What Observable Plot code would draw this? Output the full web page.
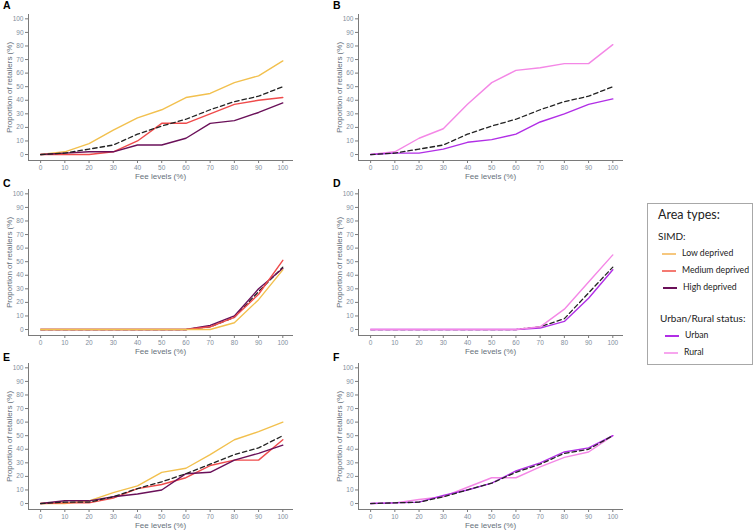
<!DOCTYPE html>
<html>
<head>
<meta charset="utf-8">
<script src="https://cdn.jsdelivr.net/npm/d3@7"></script>
<script src="https://cdn.jsdelivr.net/npm/@observablehq/plot@0.6"></script>
<style>
  body { margin: 0; background: #fff; width: 755px; height: 532px; position: relative; overflow: hidden; font-family: "Liberation Sans", Arial, sans-serif; }
  .panel { position: absolute; }
  .plabel { position: absolute; font: bold 10.5px "Liberation Sans", Arial, sans-serif; color: #000; line-height: 11px; }
  .legend { position: absolute; left: 647px; top: 203px; width: 106px; height: 162px; border: 1px solid #a8a8a8; box-sizing: border-box; font-family: Lato, "Open Sans", sans-serif; color: #222; }
  .legend .txt { position: absolute; white-space: nowrap; }
  .legend .sw { position: absolute; height: 1.5px; width: 14px; }
</style>
</head>
<body>
<script>
// Fee levels (x axis)
const fee = [0, 10, 20, 30, 40, 50, 60, 70, 80, 90, 100];
const yTicks = [0, 10, 20, 30, 40, 50, 60, 70, 80, 90, 100];

// Series names and colours
const seriesNames = ["Low deprived", "Medium deprived", "High deprived", "Urban", "Rural", "Overall"];
const seriesColors = ["#f2c04e", "#ef4b4b", "#6a1059", "#b12ee6", "#f487e6", "#222222"];

// Panel A (SIMD)
const A_low    = [0, 2, 8, 18, 27, 33, 42, 45, 53, 58, 69];
const A_medium = [0, 0, 0, 2, 10, 23, 23, 30, 37, 40, 42];
const A_high   = [0, 1, 2, 2, 7, 7, 12, 23, 25, 31, 38];
const A_all    = [0, 1, 4, 7, 15, 21, 26, 33, 39, 43, 50];
// Panel B (Urban/Rural)
const B_urban  = [0, 1, 1, 4, 9, 11, 15, 24, 30, 37, 41];
const B_rural  = [0, 2, 12, 19, 37, 53, 62, 64, 67, 67, 81];
const B_all    = [0, 1, 4, 7, 15, 21, 26, 33, 39, 43, 50];
// Panel C (SIMD)
const C_low    = [0, 0, 0, 0, 0, 0, 0, 0, 5, 22, 44];
const C_medium = [0, 0, 0, 0, 0, 0, 0, 2, 9, 26, 51];
const C_high   = [0, 0, 0, 0, 0, 0, 0, 3, 10, 30, 45];
const C_all    = [0, 0, 0, 0, 0, 0, 0, 2, 9, 28, 46];
// Panel D (Urban/Rural)
const D_urban  = [0, 0, 0, 0, 0, 0, 0, 1, 6, 23, 44];
const D_rural  = [0, 0, 0, 0, 0, 0, 0, 2, 15, 35, 55];
const D_all    = [0, 0, 0, 0, 0, 0, 0, 2, 8, 27, 46];
// Panel E (SIMD)
const E_low    = [0, 0, 2, 8, 13, 23, 26, 36, 47, 53, 60];
const E_medium = [0, 0.5, 0.5, 4, 11, 14, 19, 28, 32, 32, 47];
const E_high   = [0, 2, 2, 5, 7, 10, 22, 23, 32, 37, 43];
const E_all    = [0, 1, 1, 5, 11, 16, 22, 29, 36, 41, 50];
// Panel F (Urban/Rural)
const F_urban  = [0, 0.5, 1, 6, 10, 15, 24, 30, 38, 41, 50];
const F_rural  = [0, 0.5, 3, 5, 12, 19, 19, 27, 34, 38, 50];
const F_all    = [0, 0.5, 1, 5, 10, 15, 23, 29, 37, 40, 50];

const panels = [
  { label: "A", col: 0, row: 0, allFirst: false, series: [["Low deprived", A_low], ["Medium deprived", A_medium], ["High deprived", A_high]], all: A_all },
  { label: "B", col: 1, row: 0, allFirst: false, series: [["Rural", B_rural], ["Urban", B_urban]], all: B_all },
  { label: "C", col: 0, row: 1, allFirst: true, series: [["High deprived", C_high], ["Medium deprived", C_medium], ["Low deprived", C_low]], all: C_all },
  { label: "D", col: 1, row: 1, allFirst: true, series: [["Urban", D_urban], ["Rural", D_rural]], all: D_all },
  { label: "E", col: 0, row: 2, allFirst: false, series: [["Low deprived", E_low], ["Medium deprived", E_medium], ["High deprived", E_high]], all: E_all },
  { label: "F", col: 1, row: 2, allFirst: false, series: [["Rural", F_rural], ["Urban", F_urban]], all: F_all }
];

const rowTops = [0, 175, 349];
const labelTops = [0, 178, 352];
const colLefts = [0, 330];

for (const p of panels) {
  const rows = [];
  for (const [name, vals] of p.series) vals.forEach((v, i) => rows.push({ series: name, fee: fee[i], value: v }));
  const allRows = p.all.map((v, i) => ({ series: "Overall", fee: fee[i], value: v }));

  const seriesLine = Plot.line(rows, { x: "fee", y: "value", z: "series", stroke: "series", strokeWidth: 1.4 });
  const allLine = Plot.line(allRows, { x: "fee", y: "value", stroke: "series", strokeWidth: 1.3, strokeDasharray: "4.5,3" });

  const chart = Plot.plot({
    width: 300,
    height: 180,
    marginLeft: 28,
    marginRight: 8,
    marginTop: 14,
    marginBottom: 20,
    style: { fontFamily: "'Liberation Sans', Arial, sans-serif", background: "transparent", overflow: "visible" },
    x: { domain: [-5, 104], ticks: fee, label: null },
    y: { domain: [-4.4, 103.2], ticks: yTicks, label: null },
    color: { domain: seriesNames, range: seriesColors },
    marks: [
      Plot.frame({ anchor: "left", stroke: "#7a7a7a", strokeWidth: 1 }),
      Plot.frame({ anchor: "bottom", stroke: "#7a7a7a", strokeWidth: 1 }),
      Plot.axisY({ ticks: yTicks, tickSize: 3, tickPadding: 2, stroke: "#7a7a7a", fill: "#7f8e9c", fontSize: 6.5,
        label: "Proportion of retailers (%)", labelAnchor: "center", labelArrow: "none", labelOffset: 22 }),
      Plot.axisX({ ticks: fee, tickSize: 3, tickPadding: 2, stroke: "#7a7a7a", fill: "#7f8e9c", fontSize: 6.5,
        label: "Fee levels (%)", labelAnchor: "center", labelArrow: "none", labelOffset: 18 }),
      ...(p.allFirst ? [allLine, seriesLine] : [seriesLine, allLine])
    ]
  });
  chart.querySelectorAll("[aria-label='y-axis label'] text, [aria-label='x-axis label'] text").forEach(t => {
    t.setAttribute("fill", "#66707a");
    t.style.fontSize = "8px";
  });
  const div = document.createElement("div");
  div.className = "panel";
  div.style.left = colLefts[p.col] + "px";
  div.style.top = rowTops[p.row] + "px";
  div.appendChild(chart);
  document.body.appendChild(div);

  const lab = document.createElement("div");
  lab.className = "plabel";
  lab.textContent = p.label;
  lab.style.left = (colLefts[p.col] + 3) + "px";
  lab.style.top = labelTops[p.row] + "px";
  document.body.appendChild(lab);
}

// Legend
const legendItems = [
  { text: "Area types:", x: 10, y: 3, size: 12.5 },
  { text: "SIMD:", x: 10, y: 26, size: 10 },
  { text: "Low deprived", x: 34, y: 43, size: 8.7, color: "#f6c77e" },
  { text: "Medium deprived", x: 34, y: 60, size: 8.7, color: "#f47a72" },
  { text: "High deprived", x: 35, y: 77, size: 8.7, color: "#6a1059" },
  { text: "Urban/Rural status:", x: 12, y: 108, size: 10 },
  { text: "Urban", x: 37, y: 125, size: 8.7, color: "#b12ee6" },
  { text: "Rural", x: 36, y: 142, size: 8.7, color: "#f7a6ee" }
];
const leg = document.createElement("div");
leg.className = "legend";
for (const it of legendItems) {
  const t = document.createElement("div");
  t.className = "txt";
  t.textContent = it.text;
  t.style.left = it.x + "px";
  t.style.top = it.y + "px";
  t.style.fontSize = it.size + "px";
  leg.appendChild(t);
  if (it.color) {
    const s = document.createElement("div");
    s.className = "sw";
    s.style.background = it.color;
    s.style.left = (it.x - 20) + "px";
    s.style.top = (it.y + 6) + "px";
    leg.appendChild(s);
  }
}
document.body.appendChild(leg);
</script>
</body>
</html>
